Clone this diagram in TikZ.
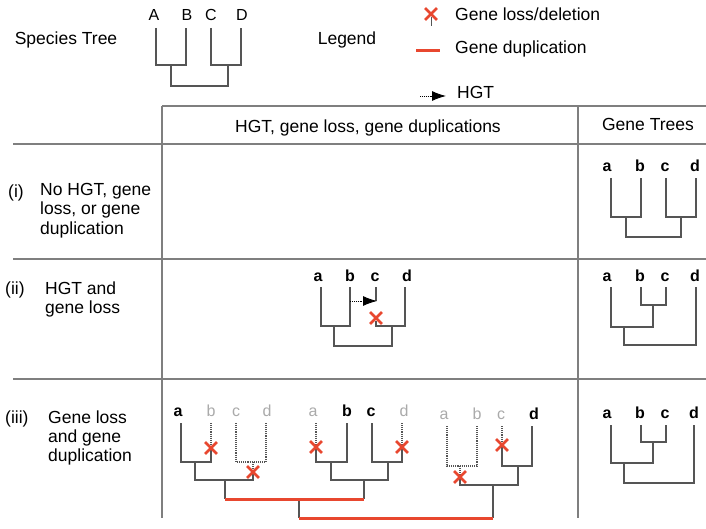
\documentclass[tikz,border=0pt]{standalone}
\usepackage{fontspec}
\setmainfont{Liberation Sans}
\usepackage{xcolor}
\usepackage{tikz}
\usetikzlibrary{arrows.meta,shapes.misc}

\definecolor{lossred}{HTML}{E8472F}
\definecolor{branchgray}{HTML}{555555}
\definecolor{ghostgray}{HTML}{AAAAAA}
\definecolor{rulegray}{HTML}{7F7F7F}

\begin{document}
\begin{tikzpicture}
	[x=1pt,y=-1pt,
	txt/.style={font=\fontsize{17.5}{19}\selectfont,inner sep=0pt,anchor=base west},
	sp/.style={font=\fontsize{16}{18}\selectfont,inner sep=0pt,anchor=base},
	leaf/.style={font=\fontsize{16}{18}\selectfont\bfseries,inner sep=0pt,anchor=base},
	ghost/.style={leaf,text=ghostgray,font=\fontsize{16}{18}\selectfont},
	branch/.style={draw=branchgray,line width=1.3pt},
	lost/.style={draw=branchgray,line width=1.1pt,densely dotted},
	dup/.style={draw=lossred,line width=3pt},
	rule/.style={draw=rulegray,line width=1.3pt},
	hgt/.style={draw=black,line width=0.9pt,densely dotted,-{Latex[length=14pt,width=10pt]}},
	lossx/.style={cross out,draw=lossred,line width=2.8pt,minimum size=9pt,inner sep=0pt}]
	\useasboundingbox (0,0) rectangle (706,529);

	% species tree and legend
	\node[txt,anchor=base] (sptitle) at (66,45) {Species Tree};
	\node[sp] (A) at (154,21) {A};
	\node[sp] (B) at (187,21) {B};
	\node[sp] (C) at (211,21) {C};
	\node[sp] (D) at (242,21) {D};
	\draw[branch] (156,28) |- (186,65) -- (186,28);
	\draw[branch] (211,28) |- (241,65) -- (241,28);
	\draw[branch] (171,65) |- (228,86) -- (228,65);

	\node[txt,anchor=base] (legend) at (347,45) {Legend};
	\draw[draw=branchgray,line width=1pt] (431,17) -- (431,26);
	\node[lossx] (legx) at (431,14) {};
	\node[txt] (leglossx) at (455,21) {Gene loss/deletion};
	\coordinate (dupl) at (416,51);
	\coordinate (dupr) at (440,51);
	\draw[dup] (dupl) -- (dupr);
	\node[txt] (legdup) at (455,54) {Gene duplication};
	\coordinate (hgtl) at (420,96);
	\coordinate (hgtr) at (446,96);
	\draw[hgt] (hgtl) -- (hgtr);
	\node[txt] (leghgt) at (457,99) {HGT};

	% table
	\draw[rule] (162,106) -- (706,106);
	\draw[rule] (162,106) -- (162,518);
	\draw[rule] (578,106) -- (578,518);
	\draw[rule] (13,144) -- (706,144);
	\draw[rule] (13,259) -- (706,259);
	\draw[rule] (13,379) -- (706,379);
	\node[txt,anchor=base] (headmid) at (368,133) {HGT, gene loss, gene duplications};
	\node[txt,anchor=base] (headgt) at (648,131) {Gene Trees};

	\node[txt] (rowi) at (8,198) {(i)};
	\node[txt] (texti1) at (40,196) {No HGT, gene};
	\node[txt] (texti2) at (40,215) {loss, or gene};
	\node[txt] (texti3) at (40,234) {duplication};
	\node[txt] (rowii) at (5,294) {(ii)};
	\node[txt] (textii1) at (45,294) {HGT and};
	\node[txt] (textii2) at (45,313) {gene loss};
	\node[txt] (rowiii) at (5,423) {(iii)};
	\node[txt] (textiii1) at (48,423) {Gene loss};
	\node[txt] (textiii2) at (48,442) {and gene};
	\node[txt] (textiii3) at (48,461) {duplication};

	% gene tree (i)
	\node[leaf] (ga1) at (607,172) {a};
	\node[leaf] (gb1) at (640,172) {b};
	\node[leaf] (gc1) at (665,172) {c};
	\node[leaf] (gd1) at (695,172) {d};
	\draw[branch] (611,178) |- (641,217) -- (641,178);
	\draw[branch] (666,178) |- (696,217) -- (696,178);
	\draw[branch] (626,217) |- (681,237) -- (681,217);

	% row (ii)
	\node[leaf] (ma2) at (318,281) {a};
	\node[leaf] (mb2) at (350,281) {b};
	\node[leaf] (mc2) at (375,281) {c};
	\node[leaf] (md2) at (407,281) {d};
	\draw[branch] (321,287) |- (350,326) -- (350,287);
	\draw[branch] (376,287) -- (376,301);
	\coordinate (hgtfrom) at (350,301);
	\coordinate (hgtto) at (377,301);
	\draw[hgt] (hgtfrom) -- (hgtto);
	\draw[branch] (376,321) |- (405,326) -- (405,287);
	\node[lossx] (x2) at (376,318) {};
	\draw[branch] (334,326) |- (392,346) -- (392,326);

	\node[leaf] (ga2) at (607,281) {a};
	\node[leaf] (gb2) at (640,281) {b};
	\node[leaf] (gc2) at (665,281) {c};
	\node[leaf] (gd2) at (695,281) {d};
	\draw[branch] (641,287) |- (666,305) -- (666,287);
	\draw[branch] (611,287) |- (653,327) -- (653,305);
	\draw[branch] (624,327) |- (696,345) -- (696,287);

	% row (iii)
	\node[leaf] (pa1) at (178,416) {a};
	\node[ghost] (pb1) at (211,416) {b};
	\node[ghost] (pc1) at (236,416) {c};
	\node[ghost] (pd1) at (267,416) {d};
	\draw[branch] (181,423) |- (211,462) -- (211,448);
	\draw[lost] (211,423) -- (211,448);
	\draw[lost] (236,423) |- (266,462) -- (266,423);
	\draw[lost] (253,462) -- (253,472);
	\draw[branch] (195,462) |- (253,480) -- (253,472);
	\draw[branch] (225,480) -- (225,499);
	\node[lossx] (x3a) at (211,448) {};
	\node[lossx] (x3b) at (253,472) {};

	\node[ghost] (pa2) at (313,416) {a};
	\node[leaf] (pb2) at (347,416) {b};
	\node[leaf] (pc2) at (371,416) {c};
	\node[ghost] (pd2) at (404,416) {d};
	\draw[lost] (316,423) -- (316,447);
	\draw[branch] (316,447) |- (347,462) -- (347,423);
	\draw[branch] (372,423) |- (402,462) -- (402,447);
	\draw[lost] (402,423) -- (402,447);
	\draw[branch] (331,462) |- (388,480) -- (388,462);
	\draw[branch] (364,480) -- (364,499);
	\node[lossx] (x3c) at (316,447) {};
	\node[lossx] (x3d) at (402,447) {};

	\draw[branch] (299,499) -- (299,518);
	\draw[dup] (225,499) -- (364,499);

	\node[ghost] (pa3) at (444,419) {a};
	\node[ghost] (pb3) at (477,419) {b};
	\node[ghost] (pc3) at (501,419) {c};
	\node[leaf] (pd3) at (534,419) {d};
	\draw[lost] (447,426) |- (477,466) -- (477,426);
	\draw[lost] (460,466) -- (460,477);
	\draw[lost] (502,426) -- (502,445);
	\draw[branch] (502,445) |- (532,466) -- (532,426);
	\draw[branch] (460,477) |- (518,485) -- (518,466);
	\draw[branch] (493,485) -- (493,518);
	\node[lossx] (x3e) at (460,477) {};
	\node[lossx] (x3f) at (502,445) {};
	\draw[dup] (299,518) -- (493,518);

	\node[leaf] (ga3) at (607,418) {a};
	\node[leaf] (gb3) at (640,418) {b};
	\node[leaf] (gc3) at (665,418) {c};
	\node[leaf] (gd3) at (694,418) {d};
	\draw[branch] (641,425) |- (666,442) -- (666,425);
	\draw[branch] (611,425) |- (653,463) -- (653,442);
	\draw[branch] (624,463) |- (694,483) -- (694,425);
\end{tikzpicture}
\end{document}
